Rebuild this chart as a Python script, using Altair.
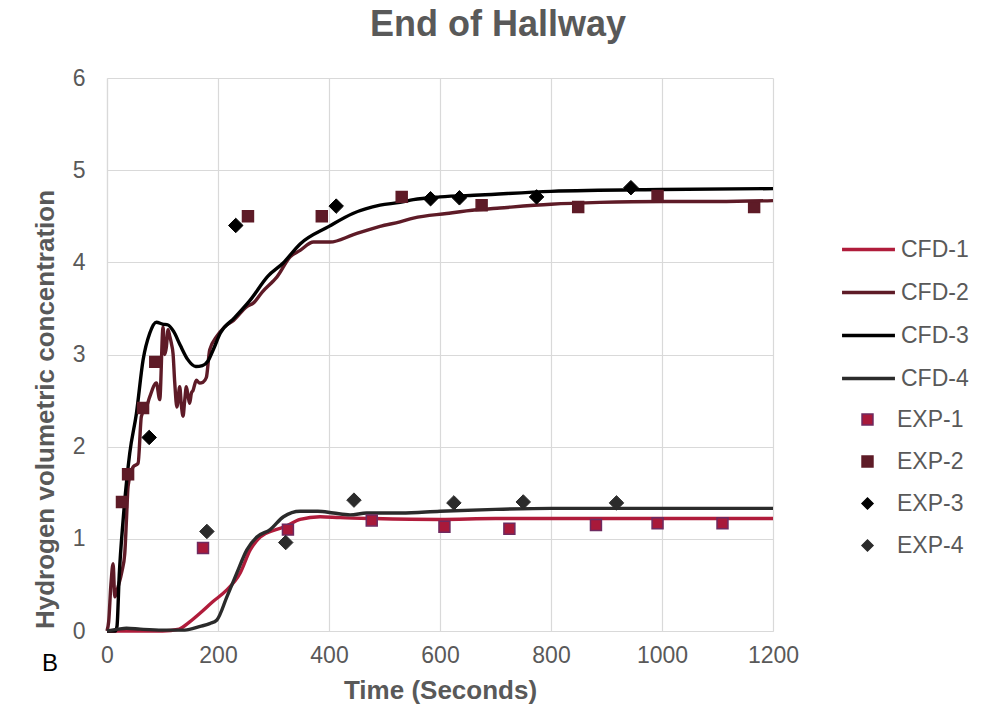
import altair as alt
import pandas as pd

# ---------------- data ----------------
cfd1_t = [0, 30, 60, 100, 130, 145, 167, 191, 215, 240, 258, 276, 300, 320, 348, 384, 420, 480, 600, 700, 800, 900, 1000, 1100, 1200]
cfd1_y = [0, 0, 0, 0, 0.02, 0.08, 0.19, 0.32, 0.44, 0.63, 0.88, 1.02, 1.09, 1.13, 1.21, 1.24, 1.23, 1.22, 1.21, 1.22, 1.22, 1.22, 1.22, 1.22, 1.22]

cfd2_t = [0, 3, 7, 11, 14, 20, 27, 32, 35, 38, 47, 56, 62, 71, 77, 89, 95, 101, 104, 107, 110, 113, 116, 119, 122,
          126, 131, 134, 137, 140, 143, 146, 149, 152, 155, 161, 167, 173, 179, 185, 197, 212, 228, 252, 264, 280,
          300, 306, 330, 348, 372, 385, 402, 444, 492, 528, 552, 612, 666, 708, 800, 888, 1000, 1100, 1200]
cfd2_y = [0, 0.1, 0.5, 0.73, 0.37, 0.48, 0.65, 0.84, 1.2, 1.57, 1.78, 1.82, 2.33, 2.43, 2.54, 2.69, 2.51, 3.30, 3.0,
          3.08, 3.27, 3.2, 3.12, 3.01, 2.7, 2.43, 2.65, 2.45, 2.33, 2.5, 2.65, 2.55, 2.47, 2.58, 2.61, 2.72, 2.69,
          2.7, 2.75, 3.05, 3.19, 3.30, 3.37, 3.52, 3.56, 3.68, 3.80, 3.84, 4.06, 4.13, 4.22, 4.22, 4.22, 4.30, 4.39,
          4.44, 4.48, 4.53, 4.57, 4.59, 4.63, 4.65, 4.66, 4.66, 4.67]

cfd3_t = [0, 15, 18, 22, 29, 41, 53, 65, 77, 89, 100, 110, 120, 132, 145, 160, 172, 182, 192, 204, 230, 258, 290,
          317, 348, 400, 443, 492, 528, 552, 600, 672, 800, 1000, 1200]
cfd3_y = [0, 0, 0.05, 0.6, 1.2, 1.93, 2.36, 2.94, 3.23, 3.35, 3.33, 3.32, 3.25, 3.1, 2.95, 2.87, 2.88, 2.93, 3.06,
          3.23, 3.40, 3.59, 3.85, 3.99, 4.2, 4.39, 4.53, 4.62, 4.65, 4.68, 4.71, 4.73, 4.77, 4.79, 4.80]

cfd4_t = [0, 20, 35, 60, 100, 140, 168, 185, 198, 216, 234, 252, 270, 294, 318, 348, 380, 408, 438, 468, 530, 600,
          700, 800, 1000, 1200]
cfd4_y = [0, 0.02, 0.03, 0.02, 0.01, 0.01, 0.05, 0.08, 0.12, 0.37, 0.63, 0.88, 1.02, 1.10, 1.24, 1.30, 1.30, 1.28,
          1.26, 1.28, 1.28, 1.30, 1.32, 1.33, 1.33, 1.33]

exp1_t = [173, 326, 477, 608, 725, 881, 992, 1109]
exp1_y = [0.90, 1.10, 1.20, 1.13, 1.11, 1.15, 1.17, 1.17]
exp2_t = [27, 38, 65, 87, 254, 387, 531, 675, 849, 992, 1166]
exp2_y = [1.40, 1.70, 2.42, 2.92, 4.50, 4.50, 4.71, 4.62, 4.60, 4.72, 4.60]
exp3_t = [76, 232, 413, 583, 635, 774, 944]
exp3_y = [2.10, 4.40, 4.61, 4.69, 4.70, 4.71, 4.81]
exp4_t = [180, 322, 445, 625, 750, 918]
exp4_y = [1.08, 0.96, 1.42, 1.39, 1.40, 1.39]

cfd_names = ["CFD-1", "CFD-2", "CFD-3", "CFD-4"]
exp_names = ["EXP-1", "EXP-2", "EXP-3", "EXP-4"]
cfd_colors = ["#b01c3b", "#5e1b27", "#000000", "#2b2b2b"]
exp_fill = ["#a8193a", "#5e1b27", "#000000", "#2b2b2b"]
exp_stroke = ["#6e2a60", "#5e1b27", "#000000", "#2b2b2b"]
exp_shapes = ["square", "square", "diamond", "diamond"]

# ---------------- tables ----------------
rows = []
for name, ts, ys in zip(cfd_names, [cfd1_t, cfd2_t, cfd3_t, cfd4_t], [cfd1_y, cfd2_y, cfd3_y, cfd4_y]):
    for i, (t, y) in enumerate(zip(ts, ys)):
        rows.append({"model": name, "t": t, "y": y, "order": i})
lines_df = pd.DataFrame(rows)

rows = []
for name, ts, ys in zip(exp_names, [exp1_t, exp2_t, exp3_t, exp4_t], [exp1_y, exp2_y, exp3_y, exp4_y]):
    for t, y in zip(ts, ys):
        rows.append({"exp": name, "t": t, "y": y})
pts_df = pd.DataFrame(rows)

FONT = "Liberation Sans"
GREY = "#595959"

x_enc = alt.X("t:Q", scale=alt.Scale(domain=[0, 1200], nice=False),
              axis=alt.Axis(values=[0, 200, 400, 600, 800, 1000, 1200], format="d", title="Time (Seconds)",
                            titleY=67, titleBaseline="alphabetic", titleX=333, labelPadding=13,
                            labelFlush=False))
y_enc = alt.Y("y:Q", scale=alt.Scale(domain=[0, 6], nice=False),
              axis=alt.Axis(values=[0, 1, 2, 3, 4, 5, 6], format="d", title="Hydrogen volumetric concentration",
                            titleX=-54, titleY=331, titleBaseline="alphabetic", titleAngle=-90,
                            titleAlign="center", labelPadding=22, labelFlush=False))

leg_common = dict(title=None, orient="none", labelFont=FONT, labelFontSize=23, labelColor=GREY, padding=0)

lines = alt.Chart(lines_df).mark_line(strokeWidth=3.4, interpolate="monotone").encode(
    x=x_enc,
    y=y_enc,
    order="order:Q",
    color=alt.Color("model:N", scale=alt.Scale(domain=cfd_names, range=cfd_colors),
                    legend=alt.Legend(legendX=733, legendY=143, symbolType="stroke", symbolSize=2800,
                                      symbolStrokeWidth=3.4, rowPadding=2, labelOffset=4, **leg_common)),
)

pts_leg = alt.Legend(legendX=749, legendY=330, symbolSize=120, rowPadding=18, labelOffset=18, **leg_common)
pt_enc = dict(
    x="t:Q",
    y="y:Q",
    fill=alt.Fill("exp:N", scale=alt.Scale(domain=exp_names, range=exp_fill), legend=pts_leg),
    stroke=alt.Stroke("exp:N", scale=alt.Scale(domain=exp_names, range=exp_stroke), legend=pts_leg),
    shape=alt.Shape("exp:N", scale=alt.Scale(domain=exp_names, range=exp_shapes), legend=pts_leg),
)

squares = alt.Chart(pts_df).transform_filter(
    alt.FieldOneOfPredicate(field="exp", oneOf=exp_names[:2])
).mark_point(filled=True, strokeWidth=1.5, opacity=1, size=120).encode(**pt_enc)

diamonds = alt.Chart(pts_df).transform_filter(
    alt.FieldOneOfPredicate(field="exp", oneOf=exp_names[2:])
).mark_point(filled=True, strokeWidth=1, opacity=1, size=210).encode(**pt_enc)

b_label = alt.Chart(pd.DataFrame({"txt": ["B"]})).mark_text(
    font=FONT, fontSize=24, color="#000000", align="center", baseline="middle", clip=False
).encode(x=alt.value(-57), y=alt.value(586), text="txt:N")

chart = alt.layer(lines, squares, diamonds, b_label).properties(
    width=666, height=553,
    background="white",
    title=alt.Title("End of Hallway", fontSize=36, font=FONT, fontWeight="bold", color=GREY,
                    anchor="middle", offset=23, dx=58),
    padding={"left": 107, "top": 78, "right": 212, "bottom": 82},
    autosize=alt.AutoSizeParams(type="none"),
).configure_view(stroke=None).configure_axis(
    labelFont=FONT, labelFontSize=23, labelColor=GREY,
    titleFont=FONT, titleFontSize=26, titleFontWeight="bold", titleColor=GREY,
    gridColor="#d9d9d9", gridWidth=1.2, domainColor="#d9d9d9", domainWidth=1.2, ticks=False,
).configure_legend(
    labelFont=FONT, labelFontSize=23, labelColor=GREY, padding=0,
)

chart.save("out.html", embed_options={"renderer": "svg", "actions": False})
